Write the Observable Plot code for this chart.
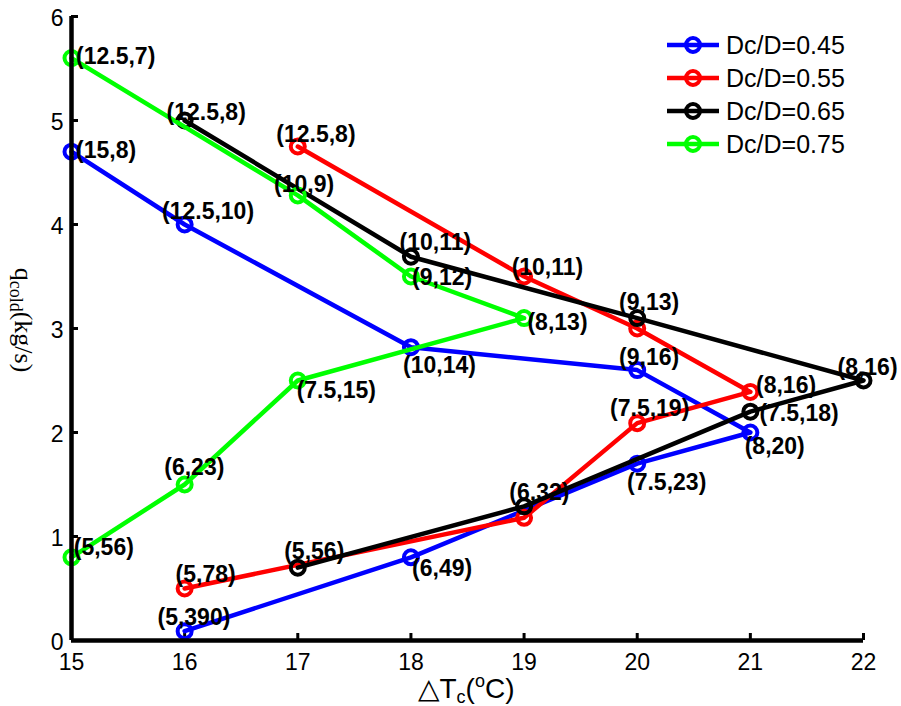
<!DOCTYPE html>
<html>
<head>
<meta charset="utf-8">
<script src="https://cdn.jsdelivr.net/npm/d3@7"></script>
<script src="https://cdn.jsdelivr.net/npm/@observablehq/plot@0.6"></script>
<style>
  body { margin: 0; background: #fff; }
  #chart { width: 901px; height: 706px; }
</style>
</head>
<body>
<div id="chart"></div>
<script>
// ---------- data ----------
const seriesNames = ["Dc/D=0.45", "Dc/D=0.55", "Dc/D=0.65", "Dc/D=0.75"];
const seriesColors = ["#0000ff", "#ff0000", "#000000", "#00ff00"];

const x045 = [15, 16, 18, 20, 21, 20, 18, 16];
const y045 = [4.70, 4.00, 2.82, 2.60, 2.00, 1.70, 0.80, 0.09];
const x055 = [17, 19, 20, 21, 20, 19, 16];
const y055 = [4.75, 3.50, 3.00, 2.39, 2.09, 1.18, 0.50];
const x065 = [16, 18, 20, 22, 21, 19, 17];
const y065 = [5.00, 3.69, 3.10, 2.50, 2.20, 1.29, 0.70];
const x075 = [15, 17, 18, 19, 17, 16, 15];
const y075 = [5.60, 4.28, 3.50, 3.10, 2.50, 1.50, 0.80];

// point annotations (text, anchor x, anchor y in data units)
const lab045 = ["(15,8)", "(12.5,10)", "(10,14)", "(9,16)", "(8,20)", "(7.5,23)", "(6,49)", "(5,390)"];
const lx045 = [15.04, 15.80, 17.93, 19.84, 20.95, 19.91, 18.01, 15.76];
const ly045 = [4.71, 4.12, 2.64, 2.72, 1.86, 1.52, 0.69, 0.22];
const lab055 = ["(12.5,8)", "(10,11)", "(8,16)", "(7.5,19)", "(5,78)"];
const lx055 = [16.81, 18.89, 21.05, 19.76, 15.92];
const ly055 = [4.86, 3.59, 2.45, 2.23, 0.63];
const lab065 = ["(12.5,8)", "(10,11)", "(9,13)", "(8,16)", "(7.5,18)", "(6,32)", "(5,56)"];
const lx065 = [15.84, 17.90, 19.84, 21.77, 21.08, 18.87, 16.88];
const ly065 = [5.08, 3.83, 3.25, 2.62, 2.18, 1.42, 0.85];
const lab075 = ["(12.5,7)", "(10,9)", "(9,12)", "(8,13)", "(7.5,15)", "(6,23)", "(5,56)"];
const lx075 = [15.04, 16.79, 18.01, 19.03, 16.99, 15.82, 15.02];
const ly075 = [5.61, 4.38, 3.49, 3.06, 2.40, 1.66, 0.89];

const xTicks = [15, 16, 17, 18, 19, 20, 21, 22];
const yTicks = [0, 1, 2, 3, 4, 5, 6];

// ---------- tables ----------
const xs = [x045, x055, x065, x075];
const ys = [y045, y055, y065, y075];
const labs = [lab045, lab055, lab065, lab075];
const lxs = [lx045, lx055, lx065, lx075];
const lys = [ly045, ly055, ly065, ly075];

const points = [];
xs.forEach((arr, s) => arr.forEach((x, i) => points.push({s, series: seriesNames[s], x, y: ys[s][i]})));
const labels = [];
labs.forEach((arr, s) => arr.forEach((t, i) => labels.push({s, text: t, x: lxs[s][i], y: lys[s][i]})));

const seriesMarks = [];
for (let s = 0; s < seriesNames.length; s++) {
  const d = points.filter(p => p.s === s);
  seriesMarks.push(Plot.line(d, {x: "x", y: "y", stroke: seriesColors[s], strokeWidth: 4.5, strokeLinejoin: "round"}));
  seriesMarks.push(Plot.dot(d, {x: "x", y: "y", r: 7, stroke: seriesColors[s], strokeWidth: 4, fill: "none"}));
}

const chart = Plot.plot({
  width: 901,
  height: 706,
  marginLeft: 71,
  marginRight: 38,
  marginTop: 16,
  marginBottom: 66,
  style: {fontFamily: "'Liberation Sans', Arial, sans-serif", fontSize: "22px", background: "#fff", color: "#000"},
  x: {domain: [15, 22]},
  y: {domain: [0, 6]},
  marks: [
    Plot.axisX(xTicks, {tickSize: -7, strokeWidth: 3, tickFormat: () => "", label: null}),
    Plot.axisY(yTicks, {tickSize: -7, strokeWidth: 3, tickFormat: () => "", label: null}),
    Plot.text(xTicks, {x: d => d, y: 0, dy: 22, text: d => String(d), fontSize: 23, lineAnchor: "middle", fill: "#000"}),
    Plot.text(yTicks, {x: 15, y: d => d, dx: -8, dy: 2, text: d => String(d), fontSize: 23, textAnchor: "end", lineAnchor: "middle", fill: "#000"}),
    ...seriesMarks,
    Plot.text(labels, {x: "x", y: "y", text: "text", textAnchor: "start", lineAnchor: "middle",
      fontWeight: "bold", fontSize: 23, fill: "#000"}),
    Plot.ruleY([0], {stroke: "#000", strokeWidth: 4.5}),
    Plot.ruleX([15], {stroke: "#000", strokeWidth: 4.5})
  ]
});

document.getElementById("chart").appendChild(chart);

// ---------- axis titles and legend ----------
const svg = d3.select(chart);

const xt = svg.append("text")
  .attr("x", 466).attr("y", 698)
  .attr("text-anchor", "middle")
  .style("font-family", "'Liberation Sans', Arial, sans-serif")
  .style("font-size", "28px").attr("fill", "#000");
xt.append("tspan").text("\u25B3T");
xt.append("tspan").attr("dy", 5).style("font-size", "18px").text("c");
xt.append("tspan").attr("dy", -5).text("(");
xt.append("tspan").attr("dy", -11).style("font-size", "18px").text("o");
xt.append("tspan").attr("dy", 11).text("C)");

const yt = svg.append("text")
  .attr("transform", "translate(15,320) rotate(90)")
  .attr("text-anchor", "middle")
  .style("font-family", "'Liberation Serif', 'Times New Roman', serif")
  .style("font-size", "26px").attr("fill", "#000");
yt.append("tspan").text("q");
yt.append("tspan").attr("dy", 5).style("font-size", "18px").text("cold");
yt.append("tspan").attr("dy", -5).text("(kg/s)");

const lg = svg.append("g");
seriesNames.forEach((name, i) => {
  const cy = 45 + 33 * i;
  lg.append("line").attr("x1", 667).attr("x2", 719).attr("y1", cy).attr("y2", cy)
    .attr("stroke", seriesColors[i]).attr("stroke-width", 4.5);
  lg.append("circle").attr("cx", 693).attr("cy", cy).attr("r", 7)
    .attr("fill", "none").attr("stroke", seriesColors[i]).attr("stroke-width", 4);
  lg.append("text").attr("x", 726).attr("y", cy).attr("dy", "0.35em")
    .attr("text-anchor", "start")
    .style("font-family", "'Liberation Sans', Arial, sans-serif")
    .style("font-size", "25px").attr("fill", "#000").text(name);
});
</script>
</body>
</html>
